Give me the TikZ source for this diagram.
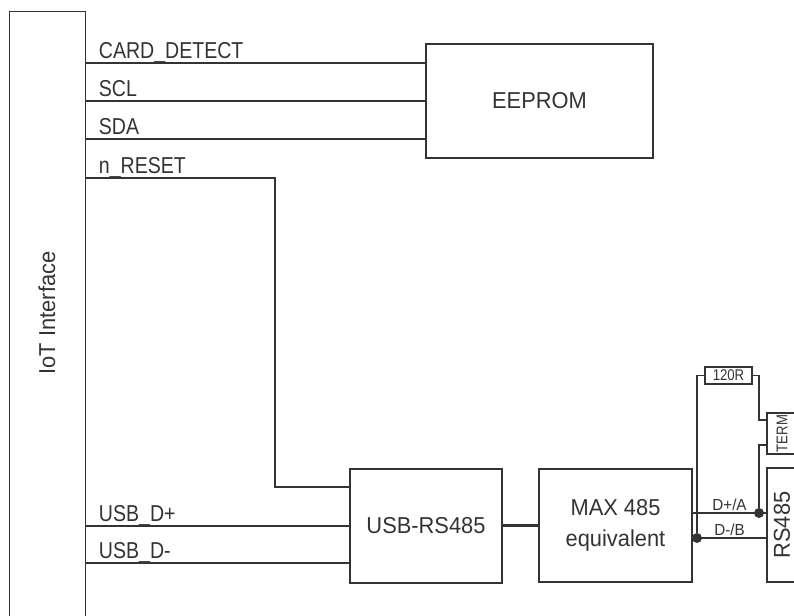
\documentclass[tikz,border=0pt]{standalone}
\usepackage{fontspec}
\setmainfont{Liberation Sans}[FakeStretch=0.95]
\newfontfamily\narrowfont{Liberation Sans}[FakeStretch=0.85]
\usepackage{tikz}
\usetikzlibrary{calc}
\definecolor{inkgray}{HTML}{333333}

\begin{document}
\begin{tikzpicture}[
  x=1pt, y=1pt,
  font=\fontsize{23}{31}\selectfont,
  text=inkgray,
  box/.style={draw=inkgray, line width=1.3pt, inner sep=0pt, align=center},
  ln/.style={draw=inkgray, line width=1.3pt},
  bus/.style={draw=inkgray, line width=3pt},
  sig/.style={font=\narrowfont\fontsize{23}{28}\selectfont, anchor=base west,
              inner sep=0pt, xshift=12pt, yshift=4.5pt},
  small/.style={font=\narrowfont\fontsize{15.5}{18}\selectfont, inner sep=0pt},
  pinlbl/.style={font=\fontsize{16}{18}\selectfont, anchor=base, inner sep=0pt, yshift=2.5pt},
  dot/.style={circle, fill=inkgray, inner sep=0pt, minimum size=10pt}
]
\useasboundingbox (0,0) rectangle (794,615);
\clip (0,0) rectangle (794,615);

% blocks
\node[box, minimum width=76pt, minimum height=640pt, anchor=north west] (iot) at (9,604) {};
\node[rotate=90, inner sep=0pt] (iotlbl) at (47,302) {IoT Interface};
\node[box, minimum width=227pt, minimum height=114pt] (eeprom) at (539.5,514) {EEPROM};
\node[box, minimum width=152pt, minimum height=114pt] (usb) at (426,89) {USB-RS485};
\node[box, minimum width=153pt, minimum height=113pt] (max) at (615.5,89.5) {MAX 485\\equivalent};
\node[box, rotate=90, minimum width=114pt, minimum height=30pt] (rs) at (782,90) {RS485};
\node[box, small, rotate=90, minimum width=41pt, minimum height=30pt] (term) at (782,181.5) {TERM};
\node[box, small, minimum width=47pt, minimum height=17pt] (res) at (728.5,239.5) {120R};

% pins
\coordinate (cdpin) at ($(eeprom.west)+(0,38)$);
\coordinate (sdapin) at ($(eeprom.west)+(0,-38)$);
\coordinate (rstbend) at (275,437);
\coordinate (rstpin) at ($(usb.west)+(0,39)$);
\coordinate (dmpin) at ($(usb.west)+(0,-37)$);
\coordinate (dapin) at ($(max.east)+(0,12.5)$);
\coordinate (dbpin) at ($(max.east)+(0,-12.5)$);
\coordinate (termhi) at ($(term.north)+(0,13.5)$);
\coordinate (termlo) at ($(term.north)+(0,-11.5)$);
\node[dot] (dota) at (759,102) {};
\node[dot] (dotb) at (697,77) {};

% I2C and reset
\draw[ln] (iot.east |- cdpin) -- node[sig, pos=0] (cdlbl) {CARD\_DETECT} (cdpin);
\draw[ln] (iot.east |- eeprom.west) -- node[sig, pos=0] (scllbl) {SCL} (eeprom.west);
\draw[ln] (iot.east |- sdapin) -- node[sig, pos=0] (sdalbl) {SDA} (sdapin);
\draw[ln] (iot.east |- rstbend) -- node[sig, pos=0] (rstlbl) {n\_RESET} (rstbend) |- (rstpin);

% USB
\draw[ln] (iot.east |- usb.west) -- node[sig, pos=0] (dplbl) {USB\_D+} (usb.west);
\draw[ln] (iot.east |- dmpin) -- node[sig, pos=0] (dmlbl) {USB\_D-} (dmpin);
\draw[bus] (usb.east) -- (max.west |- usb.east);

% RS485 side
\draw[ln] (dapin) -- node[pinlbl] (dalbl) {D+/A} (dapin -| rs.north);
\draw[ln] (dbpin) -- node[pinlbl] (dblbl) {D-/B} (dbpin -| rs.north);
\draw[ln] (dotb) |- (res.west);
\draw[ln] (res.east) -| (dota |- termhi) -- (termhi);
\draw[ln] (dota) |- (termlo);
\end{tikzpicture}
\end{document}
